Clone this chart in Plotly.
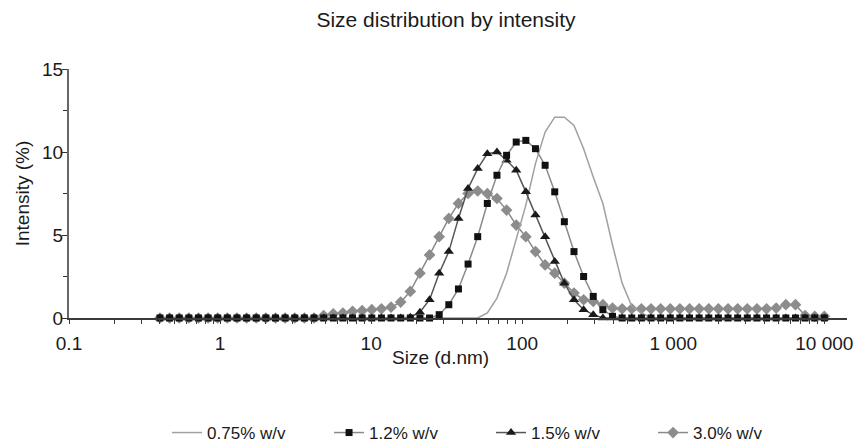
import plotly.graph_objects as go

# Size bins (d.nm)
sizes = [0.4, 0.4632, 0.5365, 0.6213, 0.7195, 0.8332, 0.9649, 1.117, 1.294, 1.499,
         1.736, 2.010, 2.328, 2.696, 3.122, 3.615, 4.187, 4.849, 5.615, 6.503,
         7.531, 8.721, 10.10, 11.70, 13.54, 15.69, 18.17, 21.04, 24.36, 28.21,
         32.67, 37.84, 43.82, 50.75, 58.77, 68.06, 78.82, 91.28, 105.7, 122.4,
         141.8, 164.2, 190.1, 220.2, 255.0, 295.3, 342.0, 396.1, 458.7, 531.2,
         615.1, 712.4, 825.0, 955.4, 1106, 1281, 1484, 1718, 1990, 2305,
         2669, 3091, 3580, 4145, 4801, 5560, 6439, 7456, 8635, 10000]

int_075 = [0]*34 + [0.3, 1.2, 2.7, 4.8, 6.8, 9.3, 11.2, 12.1, 12.1, 11.6,
                    10.2, 8.5, 6.9, 4.4, 2.1, 0.7, 0.3] + [0]*19

int_12 = [0]*29 + [0.2, 0.8, 1.75, 3.25, 4.9, 6.9, 8.6, 9.8, 10.6, 10.7,
                   10.2, 9.2, 7.6, 5.8, 4.0, 2.5, 1.3, 0.5, 0.1] + [0]*22

int_15 = [0]*26 + [0.05, 0.35, 1.1, 2.7, 4.0, 6.0, 7.8, 9.0, 9.9, 10.0,
                   9.5, 8.9, 7.6, 6.2, 4.9, 3.4, 2.1, 1.1, 0.5, 0.2] + [0]*24

int_30 = [0]*17 + [0.15, 0.25, 0.3, 0.4, 0.45, 0.5, 0.55, 0.65, 0.96, 1.6,
                   2.7, 3.8, 4.9, 6.0, 6.9, 7.5, 7.65, 7.5, 7.2, 6.5,
                   5.6, 4.9, 4.0, 3.2, 2.7, 2.1, 1.5, 1.1, 1.0, 0.8,
                   0.6] + [0.55]*16 + [0.6, 0.8, 0.8, 0.15, 0.1, 0.1]

x_tickvals = [0.1, 1, 10, 100, 1000, 10000]
x_ticktext = ["0.1", "1", "10", "100", "1 000", "10 000"]
x_minor = [m * d for d in [0.1, 1, 10, 100, 1000] for m in range(2, 10)]
y_tickvals = [0, 5, 10, 15]
y_minor = [2.5, 7.5, 12.5]

FONT = "Liberation Sans, Arial, sans-serif"
fig = go.Figure()

fig.add_trace(go.Scatter(x=sizes, y=int_30, name="3.0% w/v", mode="lines+markers",
                         line=dict(color="#8a8a8a", width=1.5),
                         marker=dict(symbol="diamond", size=9, color="#8c8c8c"),
                         cliponaxis=False, legendrank=4))
fig.add_trace(go.Scatter(x=sizes, y=int_075, name="0.75% w/v", mode="lines",
                         line=dict(color="#a0a0a0", width=1.5),
                         cliponaxis=False, legendrank=1))
fig.add_trace(go.Scatter(x=sizes, y=int_15, name="1.5% w/v", mode="lines+markers",
                         line=dict(color="#555555", width=1.5),
                         marker=dict(symbol="triangle-up", size=9, color="#1a1a1a"),
                         cliponaxis=False, legendrank=3))
fig.add_trace(go.Scatter(x=sizes, y=int_12, name="1.2% w/v", mode="lines+markers",
                         line=dict(color="#8a8a8a", width=1.5),
                         marker=dict(symbol="square", size=7, color="#111111"),
                         cliponaxis=False, legendrank=2))

L, T = 69, 69
W = 5.15 * 151
H = 249
fig.update_layout(
    width=854, height=444,
    margin=dict(l=L, r=854 - L - W, t=T, b=444 - T - H, autoexpand=False),
    paper_bgcolor="white", plot_bgcolor="white",
    font=dict(family=FONT, size=19, color="#1a1a1a"),
    title=dict(text="Size distribution by intensity", x=446 / 854, xanchor="center",
               xref="container", y=1 - 20 / 444, yref="container", yanchor="middle",
               font=dict(size=21, family=FONT, color="#1a1a1a")),
    showlegend=True,
    legend=dict(orientation="h", x=(167 - L) / W, xanchor="left",
                y=(T + H - 433) / H, yanchor="middle",
                font=dict(size=17, family=FONT), entrywidth=117, entrywidthmode="pixels",
                traceorder="normal", bgcolor="rgba(0,0,0,0)"),
    annotations=[dict(text="Size (d.nm)", x=(440 - L) / W, xref="paper", xanchor="center",
                      y=(T + H - 357) / H, yref="paper", yanchor="middle", showarrow=False,
                      font=dict(size=19, family=FONT))],
)

fig.update_xaxes(type="log", range=[-1, 4.15], tickvals=x_tickvals, ticktext=x_ticktext,
                 showgrid=False, zeroline=False, showline=True, linecolor="#3a3a3a", linewidth=2,
                 ticks="outside", ticklen=4, tickcolor="#3a3a3a", ticklabelstandoff=3,
                 minor=dict(tickvals=x_minor, ticks="outside", ticklen=4, tickcolor="#3a3a3a",
                            showgrid=False))
fig.update_yaxes(range=[0, 15], tickvals=y_tickvals, showgrid=False, zeroline=False,
                 showline=True, linecolor="#666666", linewidth=2,
                 ticks="outside", ticklen=5, tickcolor="#333333", ticklabelstandoff=-5,
                 minor=dict(tickvals=y_minor, ticks="outside", ticklen=4, tickcolor="#333333",
                            showgrid=False),
                 title=dict(text="Intensity (%)", standoff=7, font=dict(size=19, family=FONT)))

fig.write_html("out.html", config={"displayModeBar": False},
               post_script="document.body.style.margin='0';")
